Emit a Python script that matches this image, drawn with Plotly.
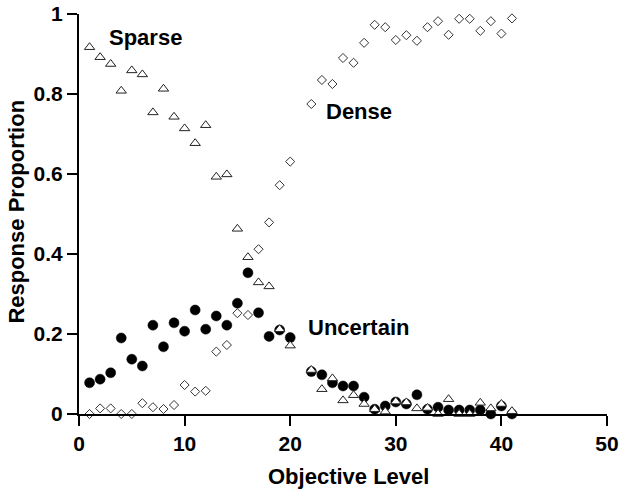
import plotly.graph_objects as go

levels = list(range(1, 21)) + list(range(22, 42))

sparse = [0.917, 0.892, 0.875, 0.808, 0.859, 0.849, 0.754, 0.813, 0.743, 0.714,
          0.677, 0.722, 0.593, 0.599, 0.463, 0.392, 0.329, 0.319, 0.212, 0.171,
          0.110, 0.062, 0.089, 0.034, 0.047, 0.025, 0.012, 0.006, 0.031, 0.029,
          0.014, 0.015, 0.000, 0.037, 0.000, 0.000, 0.028, 0.014, 0.025, 0.007]

uncertain = [0.078, 0.087, 0.103, 0.190, 0.137, 0.120, 0.222, 0.168, 0.228, 0.207,
             0.260, 0.212, 0.245, 0.222, 0.277, 0.353, 0.253, 0.194, 0.210, 0.191,
             0.106, 0.098, 0.078, 0.070, 0.070, 0.042, 0.012, 0.020, 0.030, 0.025,
             0.048, 0.012, 0.017, 0.010, 0.010, 0.010, 0.010, 0.000, 0.020, 0.000]

dense = [0.000, 0.014, 0.014, 0.000, 0.000, 0.027, 0.017, 0.0125, 0.0225, 0.0725,
         0.056, 0.058, 0.156, 0.1725, 0.252, 0.2475, 0.412, 0.479, 0.572, 0.631,
         0.775, 0.835, 0.825, 0.890, 0.878, 0.928, 0.973, 0.967, 0.935, 0.947,
         0.933, 0.967, 0.982, 0.948, 0.988, 0.988, 0.958, 0.982, 0.951, 0.989]

x_ticks = [0, 10, 20, 30, 40, 50]
y_ticks = [0, 0.2, 0.4, 0.6, 0.8, 1]
y_ticktext = ["0", "0.2", "0.4", "0.6", "0.8", "1"]

FONT = "Liberation Sans, Arial, sans-serif"

fig = go.Figure()
fig.add_trace(go.Scatter(
    x=levels, y=dense, mode="markers", cliponaxis=False,
    marker=dict(symbol="diamond", size=7, color="white",
                line=dict(color="#333333", width=1))))
fig.add_trace(go.Scatter(
    x=levels, y=uncertain, mode="markers", cliponaxis=False,
    marker=dict(symbol="circle", size=10, color="black",
                line=dict(color="black", width=0.5))))
fig.add_trace(go.Scatter(
    x=levels, y=sparse, mode="markers", cliponaxis=False,
    marker=dict(symbol="triangle-up", size=9, color="white",
                line=dict(color="#222222", width=1))))

axis_common = dict(showgrid=False, zeroline=False, showline=True,
                   linecolor="black", linewidth=2, ticks="outside",
                   ticklen=10, tickwidth=1.5, tickcolor="black",
                   automargin=False, ticklabeloverflow="allow",
                   tickfont=dict(family=FONT, size=21, color="black", weight="bold"))

fig.update_xaxes(range=[0, 50], tickvals=x_ticks, **axis_common)
fig.update_yaxes(range=[0, 1], tickvals=y_ticks, ticktext=y_ticktext, **axis_common)

ann_font = dict(family=FONT, size=22, color="black", weight="bold")
fig.add_annotation(x=6.25, y=0.9425, text="Sparse", showarrow=False, font=ann_font)
fig.add_annotation(x=26.5, y=0.7575, text="Dense", showarrow=False, font=ann_font)
fig.add_annotation(x=26.5, y=0.2175, text="Uncertain", showarrow=False, font=ann_font)

fig.add_annotation(xref="paper", yref="paper", x=0.511, y=-0.155,
                   text="Objective Level", showarrow=False, font=ann_font,
                   xanchor="center", yanchor="middle")
fig.add_annotation(xref="paper", yref="paper", x=-0.1174, y=0.506,
                   text="Response Proportion", showarrow=False, font=ann_font,
                   textangle=-90, xanchor="center", yanchor="middle")

fig.update_layout(
    width=629, height=497,
    margin=dict(l=79, r=22, t=14, b=83, autoexpand=False),
    plot_bgcolor="white", paper_bgcolor="white",
    showlegend=False,
    font=dict(family=FONT, color="black"),
)

fig.write_html("out.html",
               config={"displayModeBar": False},
               post_script="document.body.style.margin='0';document.body.style.padding='0';")
